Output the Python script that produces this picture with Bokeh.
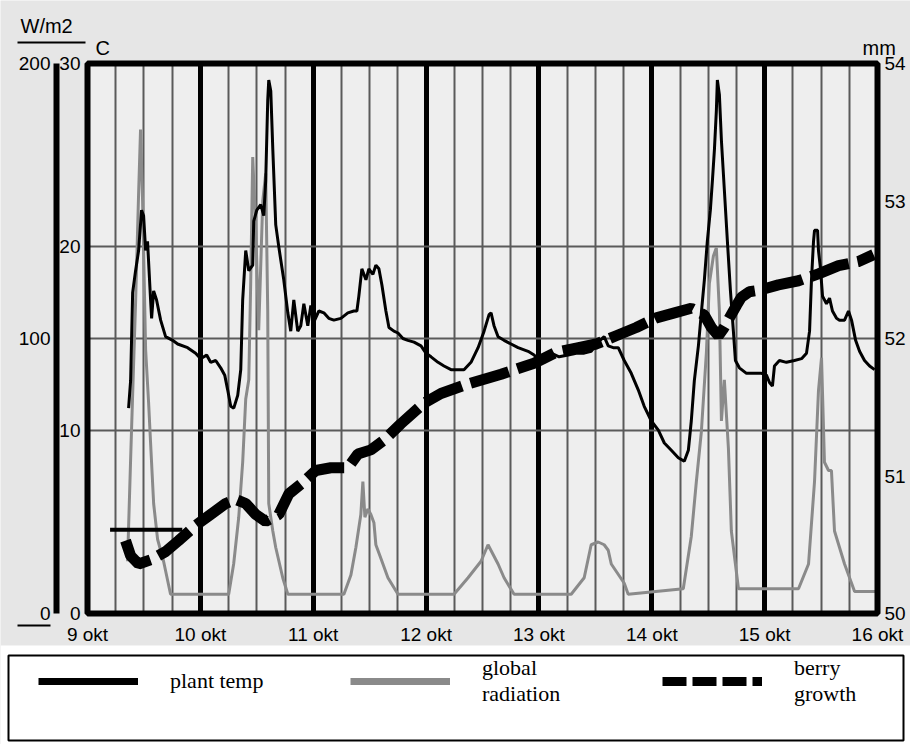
from bokeh.plotting import figure
from bokeh.models import (Range1d, LinearAxis, FixedTicker, Grid, Label,
                          BoxAnnotation, Legend, LegendItem)
from bokeh.embed import file_html
from bokeh.resources import INLINE

# Time is counted in days after 9 okt 00:00
day_ticks = [0, 1, 2, 3, 4, 5, 6, 7]
day_labels = ["9 okt", "10 okt", "11 okt", "12 okt", "13 okt", "14 okt", "15 okt", "16 okt"]
temp_ticks = [0, 10, 20, 30]          # C
wm2_ticks = [0, 100, 200]             # W/m2
mm_ticks = [50, 51, 52, 53, 54]       # mm

# plant temperature (C)
temp_t = [0.364, 0.382, 0.400, 0.426, 0.453, 0.479, 0.497, 0.515, 0.532, 0.559,
          0.568, 0.586, 0.612, 0.648, 0.692, 0.754, 0.799, 0.887, 0.958, 1.003,
          1.056, 1.091, 1.136, 1.180, 1.216, 1.242, 1.269, 1.296, 1.331, 1.358,
          1.375, 1.402, 1.429, 1.464, 1.473, 1.500, 1.535, 1.562, 1.579, 1.597,
          1.606, 1.624, 1.642, 1.668, 1.695, 1.739, 1.775, 1.801, 1.828, 1.863,
          1.890, 1.917, 1.952, 1.979, 2.005, 2.050, 2.094, 2.138, 2.183, 2.245,
          2.307, 2.360, 2.387, 2.404, 2.431, 2.467, 2.493, 2.529, 2.555, 2.582,
          2.609, 2.644, 2.671, 2.715, 2.751, 2.795, 2.839, 2.893, 2.955, 2.999,
          3.044, 3.106, 3.159, 3.221, 3.283, 3.336, 3.398, 3.461, 3.514, 3.558,
          3.576, 3.602, 3.638, 3.691, 3.753, 3.815, 3.904, 3.957, 4.002, 4.046,
          4.108, 4.179, 4.259, 4.330, 4.401, 4.463, 4.525, 4.578, 4.614, 4.658,
          4.703, 4.756, 4.818, 4.880, 4.933, 4.996, 5.058, 5.111, 5.173, 5.235,
          5.288, 5.324, 5.350, 5.377, 5.413, 5.439, 5.466, 5.492, 5.519, 5.537,
          5.555, 5.572, 5.581, 5.599, 5.617, 5.643, 5.670, 5.697, 5.723, 5.741,
          5.776, 5.839, 5.901, 5.972, 6.016, 6.043, 6.069, 6.087, 6.131, 6.193,
          6.264, 6.327, 6.371, 6.398, 6.415, 6.433, 6.442, 6.469, 6.477, 6.495,
          6.513, 6.548, 6.575, 6.601, 6.637, 6.663, 6.708, 6.743, 6.770, 6.806,
          6.841, 6.885, 6.930, 6.974]
temp_c = [11.2, 12.7, 17.5, 18.7, 19.8, 22.0, 21.7, 19.8, 20.3, 17.1,
          16.1, 17.6, 17.1, 16.0, 15.1, 14.9, 14.7, 14.5, 14.2, 13.9,
          14.1, 13.7, 13.8, 13.4, 13.0, 12.2, 11.3, 11.2, 11.9, 13.3,
          17.1, 19.8, 18.7, 19.0, 21.4, 22.0, 22.3, 21.7, 23.6, 28.0,
          29.1, 28.5, 25.3, 21.2, 20.0, 18.2, 16.4, 15.4, 17.1, 15.4,
          15.7, 16.9, 15.7, 16.8, 15.9, 16.5, 16.4, 16.1, 16.0, 16.1,
          16.4, 16.5, 16.5, 17.3, 18.8, 18.2, 18.8, 18.5, 19.0, 18.8,
          17.9, 16.5, 15.6, 15.4, 15.3, 15.0, 14.9, 14.8, 14.6, 14.2,
          14.0, 13.7, 13.5, 13.3, 13.3, 13.3, 13.7, 14.5, 15.4, 16.3,
          16.4, 15.7, 15.1, 14.9, 14.7, 14.5, 14.3, 14.1, 13.8, 14.0,
          14.2, 14.0, 14.1, 14.2, 14.2, 14.3, 14.8, 15.1, 14.6, 14.5,
          14.5, 13.8, 13.1, 12.2, 11.3, 10.5, 10.0, 9.3, 8.9, 8.5,
          8.3, 8.9, 10.5, 12.7, 14.6, 16.4, 18.2, 20.3, 22.0, 23.6,
          25.3, 27.4, 29.1, 28.3, 25.8, 23.1, 20.3, 17.6, 15.4, 13.8,
          13.4, 13.1, 13.1, 13.1, 13.0, 12.6, 12.4, 13.5, 13.8, 13.7,
          13.8, 13.9, 14.2, 15.4, 18.2, 20.3, 20.9, 20.9, 19.8, 18.8,
          17.3, 16.9, 17.2, 16.5, 16.1, 16.0, 16.0, 16.5, 16.0, 14.9,
          14.3, 13.8, 13.5, 13.3]

# global radiation (W/m2)
rad_t = [0.355, 0.382, 0.408, 0.426, 0.453, 0.470, 0.488, 0.497, 0.515, 0.541,
         0.559, 0.586, 0.621, 0.674, 0.736, 1.251, 1.295, 1.340, 1.375, 1.402,
         1.429, 1.446, 1.464, 1.491, 1.517, 1.553, 1.579, 1.597, 1.606, 1.642,
         1.668, 1.730, 1.775, 2.272, 2.334, 2.378, 2.422, 2.440, 2.458, 2.484,
         2.511, 2.538, 2.555, 2.600, 2.662, 2.751, 3.248, 3.372, 3.487, 3.549,
         3.638, 3.691, 3.780, 4.286, 4.401, 4.463, 4.525, 4.578, 4.614, 4.641,
         4.756, 4.791, 5.279, 5.350, 5.395, 5.439, 5.484, 5.510, 5.546, 5.572,
         5.599, 5.617, 5.643, 5.679, 5.705, 5.768, 6.300, 6.389, 6.442, 6.477,
         6.504, 6.530, 6.566, 6.592, 6.619, 6.708, 6.797, 7.0]
rad_w = [19, 56, 90, 113, 153, 176, 150, 132, 96, 77,
         62, 40, 27, 19, 7, 7, 18, 35, 55, 78,
         85, 120, 166, 140, 103, 150, 160, 110, 40, 30,
         24, 13, 7, 7, 14, 24, 36, 48, 35, 38,
         36, 33, 25, 20, 13, 7, 7, 13, 19, 25,
         18, 13, 7, 7, 13, 25, 26, 25, 23, 18,
         11, 7, 9, 28, 48, 66, 95, 120, 130, 133,
         110, 70, 85, 60, 30, 9, 9, 18, 48, 81,
         93, 55, 52, 52, 30, 18, 8, 8]

# berry diameter (mm)
berry_t = [0.337, 0.382, 0.453, 0.559, 0.692, 0.807, 0.958, 1.091, 1.224, 1.313,
           1.402, 1.491, 1.579, 1.695, 1.784, 1.890, 2.023, 2.156, 2.307, 2.396,
           2.511, 2.626, 2.777, 2.981, 3.132, 3.372, 3.665, 3.957, 4.153, 4.330,
           4.508, 4.685, 4.863, 5.040, 5.217, 5.350, 5.466, 5.528, 5.590, 5.634,
           5.688, 5.750, 5.794, 5.865, 5.945, 6.122, 6.300, 6.477, 6.655, 6.832,
           6.965]
berry_mm = [50.53, 50.42, 50.36, 50.39, 50.45, 50.53, 50.64, 50.72, 50.80, 50.83,
            50.80, 50.72, 50.67, 50.72, 50.87, 50.94, 51.04, 51.06, 51.06, 51.16,
            51.19, 51.26, 51.38, 51.53, 51.60, 51.67, 51.74, 51.82, 51.90, 51.93,
            51.96, 52.02, 52.08, 52.15, 52.19, 52.22, 52.17, 52.08, 52.02, 52.07,
            52.15, 52.24, 52.30, 52.34, 52.35, 52.39, 52.42, 52.47, 52.53, 52.56,
            52.61]

# short reference stroke at the start of the berry record
start_mark_t = [0.20, 0.84]
start_mark_mm = [50.61, 50.61]

AXIS_FONT = "'Liberation Sans', sans-serif"
SERIF = "'Liberation Serif', serif"
GREY = "#8a8a8a"
NAN = float("nan")

# page geometry (pixels): the plot frame sits inside a 910 x 744 canvas
W, H = 910, 744
FRAME_L, FRAME_R, FRAME_T, FRAME_B = 87, 877, 63, 613
px_day = (FRAME_R - FRAME_L) / 7.0
px_c = (FRAME_B - FRAME_T) / 30.0


def dx(px):
    """canvas pixel column -> days"""
    return (px - FRAME_L) / px_day


def dy(py):
    """canvas pixel row -> degrees C"""
    return (FRAME_B - py) / px_c


c_lo, c_hi = dy(H), dy(0)
p = figure(width=W, height=H, x_range=Range1d(dx(0), dx(W)), y_range=Range1d(c_lo, c_hi),
           x_axis_type=None, y_axis_type=None,
           output_backend="svg", toolbar_location=None,
           min_border=0, min_border_left=0, min_border_right=0,
           min_border_top=0, min_border_bottom=0,
           background_fill_color="#e6e6e6", border_fill_color="#e6e6e6",
           outline_line_color=None)
p.extra_y_ranges = {"wm2": Range1d(c_lo * 200 / 30, c_hi * 200 / 30),
                    "mm": Range1d(50 + c_lo * 4 / 30, 50 + c_hi * 4 / 30)}

# white paper below the chart and the light chart area
p.add_layout(BoxAnnotation(top=dy(645), fill_color="white", fill_alpha=1,
                           line_color=None, level="underlay"))
p.add_layout(BoxAnnotation(left=0, right=7, bottom=0, top=30, fill_color="#eeeeee",
                           fill_alpha=1, line_color=None, level="underlay"))

# six-hour grid, day grid and the horizontal guides
six_hours = [d + q for d in range(7) for q in (0.25, 0.5, 0.75)]
grid_specs = [(0, six_hours, "#5a5a5a", 2), (0, day_ticks[1:-1], "black", 5),
              (1, [10, 15, 20], "#5a5a5a", 2)]
if "cross_bounds" in Grid.properties():
    for dim, ticks, col, lw in grid_specs:
        cb = (0, 30) if dim == 0 else (0, 7)
        p.add_layout(Grid(dimension=dim, ticker=FixedTicker(ticks=ticks),
                          cross_bounds=cb, grid_line_color=col, grid_line_width=lw))
else:
    for dim, ticks, col, lw in grid_specs:
        if dim == 0:
            p.segment(x0=ticks, x1=ticks, y0=0, y1=30, line_color=col, line_width=lw)
        else:
            p.segment(x0=0, x1=7, y0=ticks, y1=ticks, line_color=col, line_width=lw)

r_rad = p.line(rad_t, rad_w, y_range_name="wm2", line_color=GREY, line_width=3)
r_temp = p.line(temp_t, temp_c, line_color="black", line_width=3)
p.line(start_mark_t, start_mark_mm, y_range_name="mm", line_color="black", line_width=4)
r_berry = p.line(berry_t, berry_mm, y_range_name="mm", line_color="black", line_width=11,
                 line_dash="40 9")

# heavy frame round the chart
p.add_layout(BoxAnnotation(left=0, right=7, bottom=0, top=30, fill_alpha=0,
                           line_color="black", line_width=6, line_alpha=1))


def plain_axis(ax, standoff):
    ax.major_tick_line_color = None
    ax.minor_tick_line_color = None
    ax.major_label_text_font = AXIS_FONT
    ax.major_label_text_font_size = "19px"
    ax.major_label_text_color = "black"
    ax.major_label_standoff = standoff
    ax.axis_line_color = None


xa = LinearAxis(fixed_location=0, ticker=FixedTicker(ticks=day_ticks), bounds=(0, 7))
xa.major_label_overrides = {t: lab for t, lab in zip(day_ticks, day_labels)}
plain_axis(xa, 4)
p.add_layout(xa, "below")

ca = LinearAxis(fixed_location=0, ticker=FixedTicker(ticks=temp_ticks), bounds=(0, 30))
plain_axis(ca, 1)
p.add_layout(ca, "left")

wa = LinearAxis(y_range_name="wm2", fixed_location=dx(56),
                ticker=FixedTicker(ticks=wm2_ticks), bounds=(0, 200))
plain_axis(wa, 0)
wa.axis_line_color = "black"
wa.axis_line_width = 6
p.add_layout(wa, "left")

ma = LinearAxis(y_range_name="mm", fixed_location=7,
                ticker=FixedTicker(ticks=mm_ticks), bounds=(50, 54))
plain_axis(ma, 1)
p.add_layout(ma, "right")

# unit captions above the axes
for txt, px, py in [("W/m2", 20, 36), ("C", 95, 58), ("mm", 862, 58)]:
    p.add_layout(Label(x=dx(px), y=dy(py), text=txt, text_font=AXIS_FONT,
                       text_font_size="20px", text_color="black",
                       text_baseline="bottom"))
p.add_layout(BoxAnnotation(left=dx(17), right=dx(85), bottom=dy(43), top=dy(41),
                           fill_color="black", fill_alpha=1, line_color=None))
p.add_layout(BoxAnnotation(left=dx(17), right=dx(50), bottom=dy(626), top=dy(624),
                           fill_color="black", fill_alpha=1, line_color=None))

# legend: framed strip under the chart
p.add_layout(BoxAnnotation(left=dx(8), right=dx(903), bottom=dy(740), top=dy(655),
                           fill_color="white", fill_alpha=1,
                           line_color="black", line_width=2, line_alpha=1))
k_temp = p.line(x=[NAN], y=[NAN], line_color="black", line_width=7)
k_rad = p.line(x=[NAN], y=[NAN], line_color=GREY, line_width=7)
k_berry = p.line(x=[NAN], y=[NAN], line_color="black", line_width=9, line_dash="24 6")

legend = Legend(items=[LegendItem(label="plant temp", renderers=[k_temp]),
                       LegendItem(label="global\nradiation", renderers=[k_rad]),
                       LegendItem(label="berry\ngrowth", renderers=[k_berry])],
                orientation="horizontal", location=(38, 37), margin=0, padding=20,
                spacing=85, glyph_width=100, glyph_height=20, label_standoff=32,
                label_width=95, label_height=20,
                label_text_font=SERIF, label_text_font_size="22px",
                label_text_color="black", label_text_align="center",
                border_line_color=None, background_fill_alpha=0)
p.add_layout(legend)

open("out.html", "w").write(file_html(p, INLINE))
